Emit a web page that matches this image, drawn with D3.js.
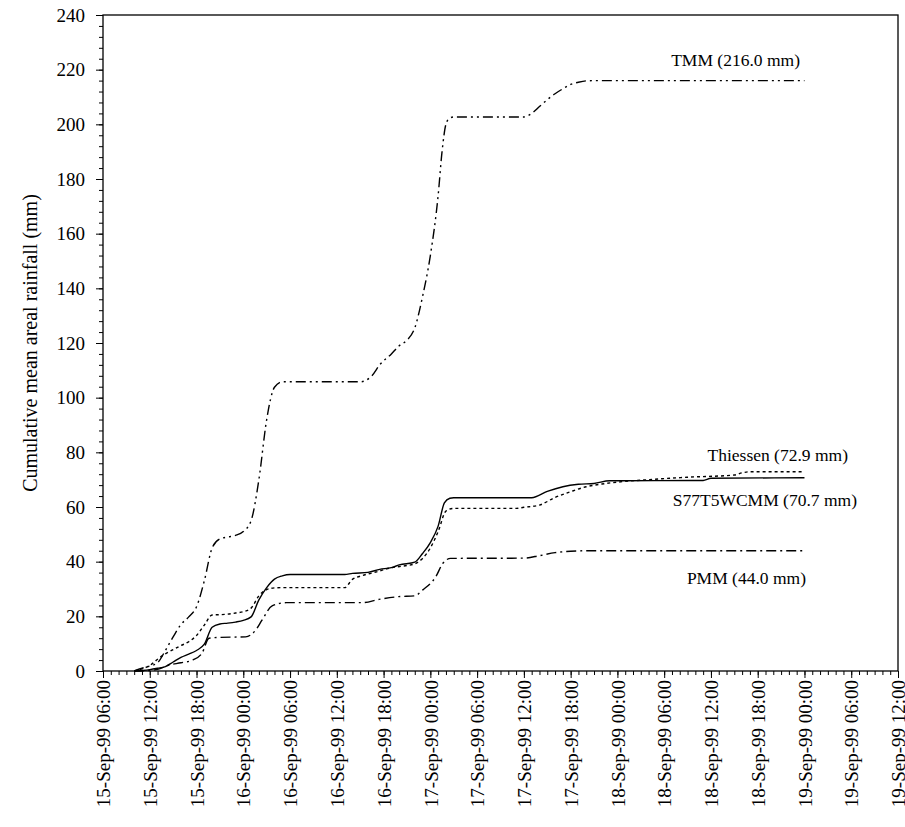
<!DOCTYPE html>
<meta charset="utf-8">
<style>
body { margin: 0; background: #fff; }
svg { font-family: "Liberation Serif", "Times New Roman", serif; }
.axis path, .axis line { stroke: #000; }
.axis text { font-family: "Liberation Serif", "Times New Roman", serif; font-size: 19px; fill: #000; }
.series { fill: none; stroke: #000; stroke-width: 1.4px; }
.note { font-size: 17.5px; fill: #000; }
.ylab { font-size: 20px; fill: #000; }
</style>
<body></body>
<script src="https://cdnjs.cloudflare.com/ajax/libs/d3/7.8.5/d3.min.js"></script>
<script>

// hours counted from 15-Sep-99 06:00 (left end of the time axis)
var tmmHours = [4,5,6,7,8,9,10,11,12,13,14,15,16,17,18,19,20,21,22,23,
                33,34.5,35.5,37,38,39,40,41,42,43,43.5,44,44.5,45,
                54,55,56,57,58,59,60,61,62,63,90];
var tmmValues = [0,1,1.8,3,7.5,12.5,17,19.8,23.5,33,45,48.3,49,49.6,51,55,70,92,103.8,105.8,
                 105.8,108,112,116,119,121,125.5,137,152,174,190,200,202.3,202.7,
                 202.7,204,206.5,209,211.2,213,214.6,215.4,215.9,216,216];

var thiessenHours = [4,5,6,7,8,9,10,11,12,13,14,15,16,17,18,19,20,21,22,23,
                     31,32,33,34,35,37,39,40,41,42,43,44,45,
                     53,54,56,58,60,62,64,66,70,75,81,82,83,90];
var thiessenValues = [0,0.8,2,4.3,6.3,7.8,9.3,10.7,13,16.8,20.5,20.6,20.8,21.2,21.7,23,27.5,29.8,30.4,30.5,
                      30.5,33.5,34.7,35.5,36.2,37.8,38.6,39.2,41.2,45,51,58.5,59.5,
                      59.5,59.9,60.7,63.5,65.6,67.4,68.4,69.1,70,70.9,71.7,72.5,72.9,72.9];

var s77Hours = [4,5,6,7,8,9,10,11,12,13,14,15,16,17,18,19,20,21,22,23,24,
                31,32,34,35.5,37,38,40,41,42,43,43.8,44.5,45,
                55,57,59,61,63,65,77,78,90];
var s77Values = [0,0.2,0.5,1,1.6,3.3,5,6.2,7.5,9.8,16,17.2,17.5,17.9,18.5,19.8,26,30.5,33.6,34.8,35.3,
                 35.3,35.7,36.1,37.2,37.8,38.8,39.8,43,47,53,61.5,63.2,63.4,
                 63.4,65.7,67.4,68.3,68.6,69.6,69.7,70.5,70.7];

var pmmHours = [4,6,7,8.5,10,11.5,12.7,13.6,15,18.3,19.6,20.4,21.7,23.5,33.3,35.4,37.9,40,41,42.7,
                43.6,44.6,54,56,58,60,62,90];
var pmmValues = [0,0.2,0.6,2.2,3,4,6.5,12,12.3,12.5,15,18.6,23.8,25,25,26.2,27.2,27.5,29.6,34.5,
                 39.4,41.2,41.3,42.2,43.3,43.8,44,44];

var seriesNames = ["TMM (216.0 mm)", "Thiessen (72.9 mm)", "S77T5WCMM (70.7 mm)", "PMM (44.0 mm)"];
var yTicks = [0,20,40,60,80,100,120,140,160,180,200,220,240];

var width = 905, height = 827;
var margin = {top: 15, right: 7, bottom: 156, left: 103};

var t0 = new Date(Date.UTC(1999, 8, 15, 6));
var t1 = new Date(Date.UTC(1999, 8, 19, 12));
function toDate(h) { return new Date(t0.getTime() + h * 3600e3); }

var svg = d3.select("body").append("svg")
    .attr("width", width)
    .attr("height", height);

var x = d3.scaleUtc()
    .domain([t0, t1])
    .range([margin.left, width - margin.right]);

var y = d3.scaleLinear()
    .domain([0, 240])
    .range([height - margin.bottom, margin.top]);

// frame
svg.append("rect")
    .attr("x", margin.left)
    .attr("y", margin.top)
    .attr("width", x.range()[1] - margin.left)
    .attr("height", y(0) - margin.top)
    .attr("fill", "none")
    .attr("stroke", "#000")
    .attr("stroke-width", 1.3);

// minor ticks
svg.append("g")
    .attr("class", "axis")
    .attr("transform", "translate(0," + y(0) + ")")
    .call(d3.axisBottom(x).ticks(d3.utcHour.every(1)).tickSize(4).tickFormat(""))
    .call(g => g.select(".domain").remove());

svg.append("g")
    .attr("class", "axis")
    .attr("transform", "translate(" + margin.left + ",0)")
    .call(d3.axisLeft(y).tickValues(d3.range(0, 241, 4)).tickSize(4).tickFormat(""))
    .call(g => g.select(".domain").remove());

// major ticks + labels
var fmt = d3.utcFormat("%d-%b-%y %H:%M");
var xAxis = svg.append("g")
    .attr("class", "axis")
    .attr("transform", "translate(0," + y(0) + ")")
    .call(d3.axisBottom(x).ticks(d3.utcHour.every(6)).tickSize(7).tickFormat(fmt));
xAxis.select(".domain").remove();
xAxis.selectAll("text")
    .attr("transform", "rotate(-90)")
    .attr("text-anchor", "end")
    .attr("x", -9)
    .attr("y", 0)
    .attr("dy", "0.35em");

var yAxis = svg.append("g")
    .attr("class", "axis")
    .attr("transform", "translate(" + margin.left + ",0)")
    .call(d3.axisLeft(y).tickValues(yTicks).tickSize(7).tickPadding(11));
yAxis.select(".domain").remove();

svg.append("text")
    .attr("class", "ylab")
    .attr("transform", "translate(30," + ((y(0) + y(240)) / 2) + ") rotate(-90)")
    .attr("text-anchor", "middle")
    .attr("dy", "0.35em")
    .text("Cumulative mean areal rainfall (mm)");

var line = d3.line()
    .x(d => x(toDate(d[0])))
    .y(d => y(d[1]))
    .curve(d3.curveMonotoneX);

var series = [
  {hours: tmmHours, values: tmmValues, dash: "10,4,2,4,2,4"},
  {hours: thiessenHours, values: thiessenValues, dash: "3,3"},
  {hours: s77Hours, values: s77Values, dash: null},
  {hours: pmmHours, values: pmmValues, dash: "10,4,2,4"}
];

svg.selectAll(".series")
  .data(series)
  .enter().append("path")
    .attr("class", "series")
    .attr("stroke-dasharray", d => d.dash)
    .attr("d", d => line(d3.zip(d.hours, d.values)));

// curve labels, anchored at their right end
var notePos = [[800, 66], [848, 461], [857, 506], [806, 584]];
svg.selectAll(".lbl")
  .data(seriesNames)
  .enter().append("text")
    .attr("class", "note lbl")
    .attr("text-anchor", "end")
    .attr("x", (d, i) => notePos[i][0])
    .attr("y", (d, i) => notePos[i][1])
    .text(d => d);

</script>
